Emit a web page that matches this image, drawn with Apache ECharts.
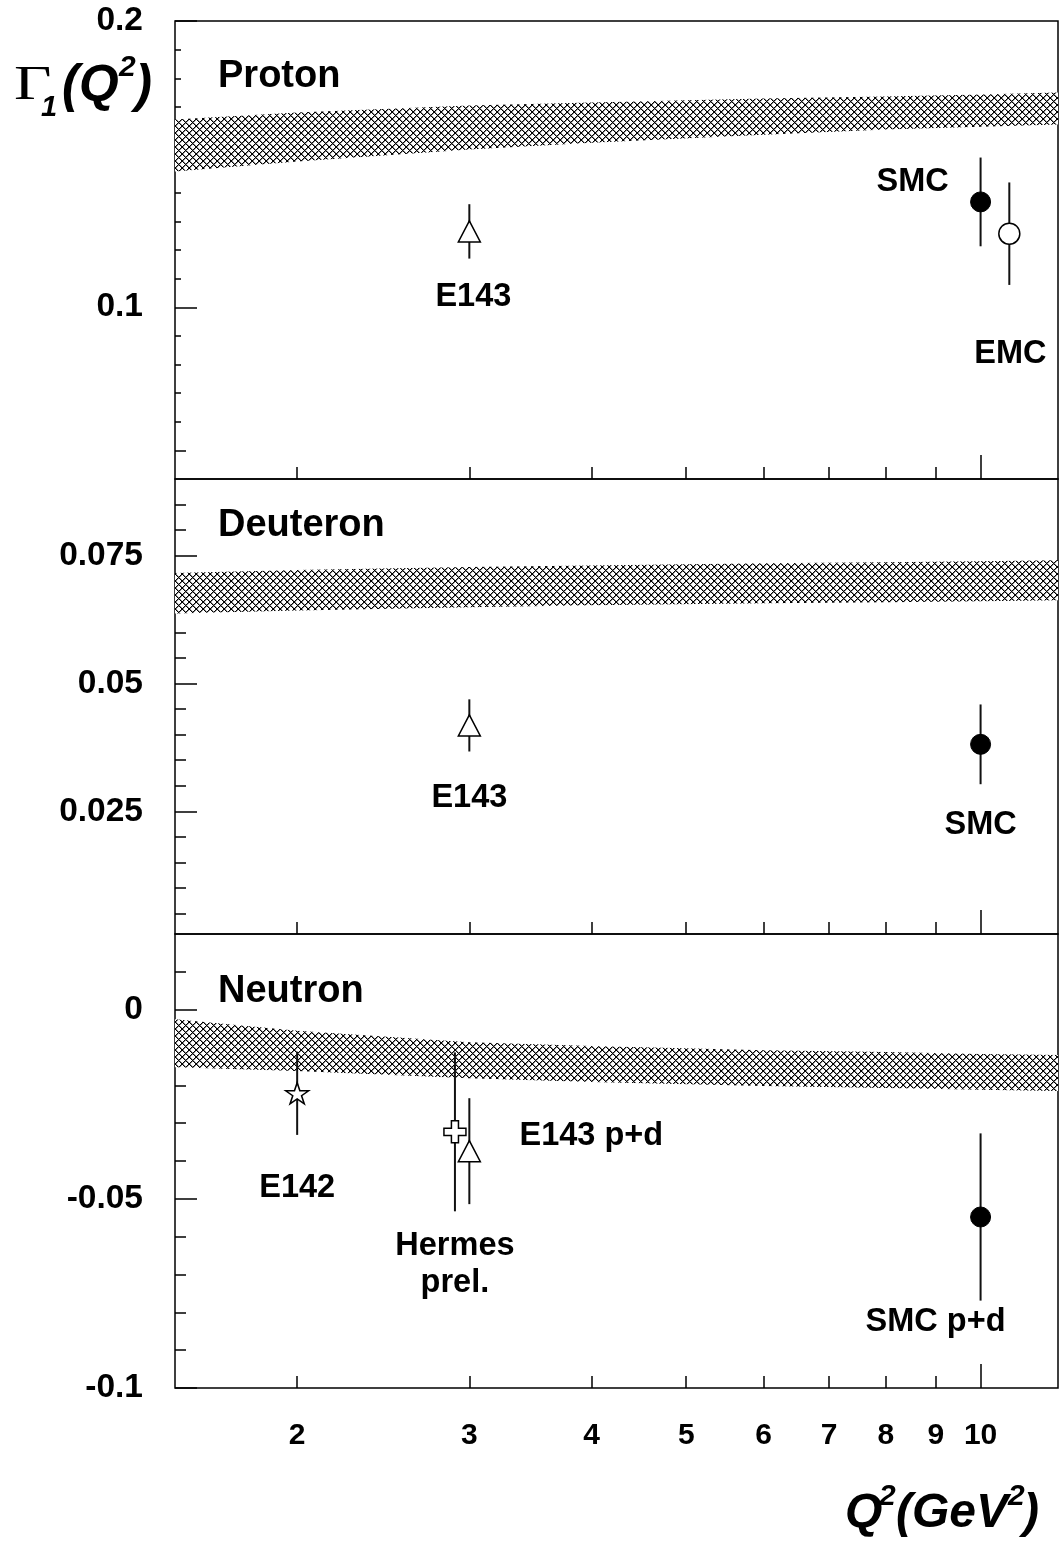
<!DOCTYPE html>
<html>
<head>
<meta charset="utf-8">
<script src="https://cdn.jsdelivr.net/npm/echarts@6/dist/echarts.min.js"></script>
<style>
  html, body { margin: 0; padding: 0; background: #fff; }
  #chart { width: 1061px; height: 1544px; }
</style>
</head>
<body>
<div id="chart"></div>
<script>
// ---- shared x range (Q^2 in GeV^2) and tick labels ----
const q2Min = 1.5;
const q2Max = 12;
const xTickValues = [2, 3, 4, 5, 6, 7, 8, 9];
const xLongTickValues = [10];
const xLabelValues = [2, 3, 4, 5, 6, 7, 8, 9, 10];

// ---- Proton ----
const protonRange = [0.04, 0.2];
const protonMajorTicks = [0.1, 0.2];
const protonMidTicks = [0.05, 0.15];
const protonMinorTicks = [0.05, 0.06, 0.07, 0.08, 0.09, 0.11, 0.12, 0.13, 0.14, 0.16, 0.17, 0.18, 0.19];
const protonBandQ2 = [1.5, 2, 3, 4, 6, 8, 10, 12];
const protonBandHi = [0.1656, 0.1680, 0.1705, 0.1715, 0.1729, 0.1736, 0.1743, 0.1750];
const protonBandLo = [0.1474, 0.1509, 0.1551, 0.1575, 0.1603, 0.1621, 0.1631, 0.1638];
const protonNames = ['E143', 'SMC', 'EMC'];
const protonQ2 = [3, 10, 10.7];
const protonG1 = [0.1265, 0.1368, 0.1257];
const protonErr = [0.0095, 0.0155, 0.0179];

// ---- Deuteron ----
const deuteronRange = [0.001, 0.09];
const deuteronMajorTicks = [0.025, 0.05, 0.075];
const deuteronMinorTicks = [0.005, 0.01, 0.015, 0.02, 0.03, 0.035, 0.04, 0.045, 0.055, 0.06, 0.065, 0.07, 0.08, 0.085];
const deuteronBandQ2 = [1.5, 2, 3, 4, 6, 8, 10, 12];
const deuteronBandHi = [0.0716, 0.0722, 0.0728, 0.0731, 0.0735, 0.0737, 0.0739, 0.0741];
const deuteronBandLo = [0.0637, 0.0643, 0.0649, 0.0653, 0.0657, 0.0659, 0.0661, 0.0663];
const deuteronNames = ['E143', 'SMC'];
const deuteronQ2 = [3, 10];
const deuteronG1 = [0.0418, 0.0381];
const deuteronErr = [0.0051, 0.0078];

// ---- Neutron ----
const neutronRange = [-0.1, 0.02];
const neutronMajorTicks = [-0.1, -0.05, 0];
const neutronMinorTicks = [-0.09, -0.08, -0.07, -0.06, -0.04, -0.03, -0.02, -0.01, 0.01];
const neutronBandQ2 = [1.5, 2, 3, 4, 6, 8, 10, 12];
const neutronBandHi = [-0.0025, -0.0056, -0.0086, -0.0096, -0.0107, -0.0112, -0.0117, -0.0120];
const neutronBandLo = [-0.0152, -0.0162, -0.0181, -0.0191, -0.0202, -0.0207, -0.0212, -0.0215];
const neutronNames = ['E142', 'Hermes\nprel.', 'E143 p+d', 'SMC p+d'];
const neutronQ2 = [2, 2.9, 3, 10];
const neutronG1 = [-0.0221, -0.0323, -0.0374, -0.0548];
const neutronErr = [0.0110, 0.0210, 0.0140, 0.0221];

// ---- styling ----
const FONT = '"Liberation Sans", Arial, Helvetica, sans-serif';
const SERIF = '"Liberation Serif", "Times New Roman", serif';

const grids = [
  { left: 175, top: 21, width: 883, height: 458 },
  { left: 175, top: 479, width: 883, height: 455 },
  { left: 175, top: 934, width: 883, height: 454 }
];

// pixel cross-hatch used to fill the theory bands
function makeHatch() {
  const n = 7;
  const c = document.createElement('canvas');
  c.width = n; c.height = n;
  const ctx = c.getContext('2d');
  ctx.fillStyle = '#fff';
  ctx.fillRect(0, 0, n, n);
  for (let y = 0; y < n; y++) {
    for (let x = 0; x < n; x++) {
      const d = (x - y + n) % n;
      const a = (x + y) % n;
      if (d === 0 || a === n - 1) {
        ctx.fillStyle = '#000';
        ctx.fillRect(x, y, 1, 1);
      } else if (d === 1 || a === 0) {
        ctx.fillStyle = '#8a8a8a';
        ctx.fillRect(x, y, 1, 1);
      }
    }
  }
  return c;
}
const hatch = { image: makeHatch(), repeat: 'repeat' };

const open = { color: '#fff', borderColor: '#000', borderWidth: 1.5, opacity: 1 };
const filled = { color: '#000', borderColor: '#000', borderWidth: 1, opacity: 1 };
const STAR = 'path://M50,0 L61.2,34.5 L97.6,34.5 L68.2,55.9 L79.4,90.5 L50,69.1 L20.6,90.5 L31.8,55.9 L2.4,34.5 L38.8,34.5 Z';
const PLUS = 'path://M34,0 H66 V34 H100 V66 H66 V100 H34 V66 H0 V34 H34 Z';

// marker look for each experiment
function markerFor(name) {
  if (name.startsWith('E143')) return { symbol: 'triangle', symbolSize: [22, 21], itemStyle: open };
  if (name.startsWith('SMC')) return { symbol: 'circle', symbolSize: 20, itemStyle: filled };
  if (name === 'EMC') return { symbol: 'circle', symbolSize: 21, itemStyle: open };
  if (name === 'E142') return { symbol: STAR, symbolSize: [23, 21], itemStyle: open };
  return { symbol: PLUS, symbolSize: [22, 22], itemStyle: open };
}

// where each label sits relative to its marker
const labelOffsets = [
  { E143: [4, 66], SMC: [-68, -20], EMC: [1, 120] },
  { E143: [0, 73], SMC: [0, 81] },
  { E142: [0, 95], 'Hermes\nprel.': [0, 133], 'E143 p+d': [122, -15], 'SMC p+d': [-45, 105] }
];

const panels = [
  { range: protonRange, major: protonMajorTicks, mid: protonMidTicks, minor: protonMinorTicks,
    bandQ2: protonBandQ2, bandHi: protonBandHi, bandLo: protonBandLo,
    names: protonNames, q2: protonQ2, g1: protonG1, err: protonErr, minorLen: 6 },
  { range: deuteronRange, major: deuteronMajorTicks, mid: [], minor: deuteronMinorTicks,
    bandQ2: deuteronBandQ2, bandHi: deuteronBandHi, bandLo: deuteronBandLo,
    names: deuteronNames, q2: deuteronQ2, g1: deuteronG1, err: deuteronErr, minorLen: 11 },
  { range: neutronRange, major: neutronMajorTicks, mid: [], minor: neutronMinorTicks,
    bandQ2: neutronBandQ2, bandHi: neutronBandHi, bandLo: neutronBandLo,
    names: neutronNames, q2: neutronQ2, g1: neutronG1, err: neutronErr, minorLen: 11 }
];

const tickLine = { color: '#000', width: 1.5 };
const xAxes = [];
const yAxes = [];
const series = [];

panels.forEach((p, g) => {
  const isBottom = g === panels.length - 1;
  // x axis: short ticks 2..9 and labels on the bottom panel
  const xMain = xAxes.length;
  xAxes.push({
    type: 'log', gridIndex: g, position: 'bottom', min: q2Min, max: q2Max,
    axisLine: { show: false, onZero: false }, splitLine: { show: false },
    axisTick: { show: true, inside: true, length: 12, customValues: xTickValues, lineStyle: tickLine },
    axisLabel: {
      show: isBottom, customValues: xLabelValues, margin: 33,
      fontSize: 30, fontWeight: 'bold', color: '#000', fontFamily: FONT,
      formatter: v => String(Math.round(v))
    }
  });
  // long tick at 10
  xAxes.push({
    type: 'log', gridIndex: g, position: 'bottom', min: q2Min, max: q2Max,
    axisLine: { show: false, onZero: false }, splitLine: { show: false }, axisLabel: { show: false },
    axisTick: { show: true, inside: true, length: 24, customValues: xLongTickValues, lineStyle: tickLine }
  });

  const yMain = yAxes.length;
  yAxes.push({
    type: 'value', gridIndex: g, position: 'left', min: p.range[0], max: p.range[1],
    axisLine: { show: false, onZero: false }, splitLine: { show: false },
    axisTick: { show: true, inside: true, length: 22, customValues: p.major, lineStyle: tickLine },
    axisLabel: {
      customValues: p.major, margin: 32, fontSize: 33.5, fontWeight: 'bold', color: '#000', fontFamily: FONT,
      formatter: v => String(parseFloat(v.toFixed(4)))
    }
  });
  yAxes.push({
    type: 'value', gridIndex: g, position: 'left', min: p.range[0], max: p.range[1],
    axisLine: { show: false, onZero: false }, splitLine: { show: false }, axisLabel: { show: false },
    axisTick: { show: true, inside: true, length: p.minorLen, customValues: p.minor, lineStyle: tickLine }
  });
  if (p.mid.length) {
    yAxes.push({
      type: 'value', gridIndex: g, position: 'left', min: p.range[0], max: p.range[1],
      axisLine: { show: false, onZero: false }, splitLine: { show: false }, axisLabel: { show: false },
      axisTick: { show: true, inside: true, length: 11, customValues: p.mid, lineStyle: tickLine }
    });
  }

  // theory band
  series.push({
    type: 'custom', xAxisIndex: xMain, yAxisIndex: yMain, clip: true, z: 1, silent: true,
    data: p.bandQ2.map((q, i) => [q, p.bandLo[i], p.bandHi[i]]),
    encode: { x: 0, y: [1, 2] },
    renderItem: (params, api) => {
      if (params.dataIndex !== 0) return null;
      const upper = p.bandQ2.map((q, i) => api.coord([q, p.bandHi[i]]));
      const lower = p.bandQ2.map((q, i) => api.coord([q, p.bandLo[i]])).reverse();
      return { type: 'polygon', shape: { points: upper.concat(lower) }, style: { fill: hatch, stroke: null } };
    }
  });

  // error bars
  series.push({
    type: 'custom', xAxisIndex: xMain, yAxisIndex: yMain, clip: true, z: 2, silent: true,
    data: p.q2.map((q, i) => [q, p.g1[i] - p.err[i], p.g1[i] + p.err[i]]),
    encode: { x: 0, y: [1, 2] },
    renderItem: (params, api) => {
      const a = api.coord([api.value(0), api.value(1)]);
      const b = api.coord([api.value(0), api.value(2)]);
      return { type: 'line', shape: { x1: a[0], y1: a[1], x2: b[0], y2: b[1] },
               style: { stroke: '#111', lineWidth: 2 } };
    }
  });

  // markers with experiment labels
  series.push({
    type: 'scatter', xAxisIndex: xMain, yAxisIndex: yMain, z: 3, silent: true,
    itemStyle: { opacity: 1 },
    data: p.q2.map((q, i) => Object.assign({
      value: [q, p.g1[i]], name: p.names[i],
      label: {
        show: true, position: 'inside', offset: labelOffsets[g][p.names[i]],
        formatter: '{b}', fontSize: 32.5, fontWeight: 'bold', color: '#000', opacity: 1, fontFamily: FONT,
        lineHeight: 37, align: 'center'
      }
    }, markerFor(p.names[i])))
  });
});

const titleStyle = { fontSize: 38, fontWeight: 'bold', fill: '#000', fontFamily: FONT, verticalAlign: 'middle' };
const bi = (size) => ({ fontSize: size, fontWeight: 'bold', fontStyle: 'italic', fill: '#000', fontFamily: FONT, verticalAlign: 'middle' });

const graphic = [
  { type: 'text', left: 218, top: 58, style: Object.assign({ text: 'Proton' }, titleStyle) },
  { type: 'text', left: 218, top: 507, style: Object.assign({ text: 'Deuteron' }, titleStyle) },
  { type: 'text', left: 218, top: 973, style: Object.assign({ text: 'Neutron' }, titleStyle) },
  // y-axis title: Γ1(Q²)
  { type: 'text', x: 14, y: 86, scaleX: 1.35, style: { text: 'Γ', fontSize: 48, fontFamily: SERIF, fill: '#000', verticalAlign: 'middle' } },
  { type: 'text', x: 41, y: 108, style: Object.assign({ text: '1' }, bi(29)) },
  { type: 'text', x: 62, y: 87, style: Object.assign({ text: '(Q' }, bi(51)) },
  { type: 'text', x: 119, y: 68, style: Object.assign({ text: '2' }, bi(30)) },
  { type: 'text', x: 135, y: 87, style: Object.assign({ text: ')' }, bi(51)) },
  // x-axis title: Q²(GeV²)
  { type: 'text', x: 845, y: 1514, style: Object.assign({ text: 'Q' }, bi(48)) },
  { type: 'text', x: 879, y: 1497, style: Object.assign({ text: '2' }, bi(30)) },
  { type: 'text', x: 896, y: 1514, style: Object.assign({ text: '(GeV' }, bi(48)) },
  { type: 'text', x: 1008, y: 1497, style: Object.assign({ text: '2' }, bi(30)) },
  { type: 'text', x: 1023, y: 1514, style: Object.assign({ text: ')' }, bi(48)) }
];

const chart = echarts.init(document.getElementById('chart'), null, { renderer: 'canvas' });
chart.setOption({
  animation: false,
  backgroundColor: '#fff',
  grid: grids.map(gr => Object.assign({ show: true, borderColor: '#000', borderWidth: 1.5, backgroundColor: 'transparent' }, gr)),
  xAxis: xAxes,
  yAxis: yAxes,
  series: series,
  graphic: graphic
});
</script>
</body>
</html>
